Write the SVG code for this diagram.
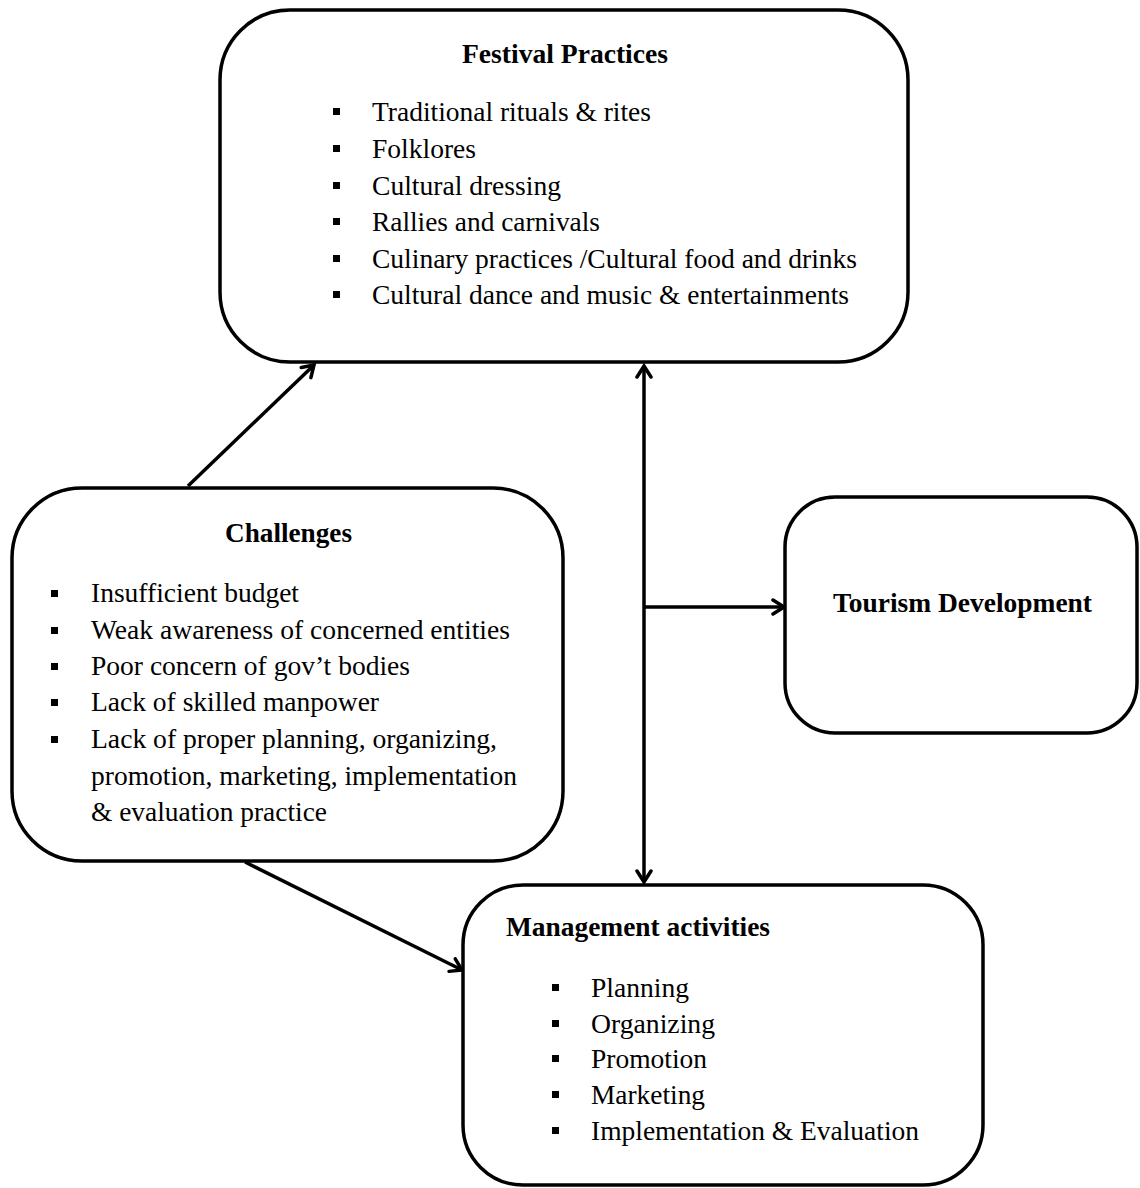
<svg xmlns="http://www.w3.org/2000/svg" width="1140" height="1188" viewBox="0 0 1140 1188">
<defs>
<style>
.box{fill:#fff;stroke:#000;stroke-width:3.5}
.t{font-family:"Liberation Serif","Times New Roman",serif;font-size:28px;fill:#000}
.b{font-weight:bold}
.c{stroke:#000;stroke-width:3.5;fill:none}
.bul{fill:#000}
</style>
<marker id="ah" viewBox="0 0 20 20" refX="17" refY="10" markerWidth="20" markerHeight="20" markerUnits="userSpaceOnUse" orient="auto-start-reverse">
<path d="M6,3 L17,10 L6,17" fill="none" stroke="#000" stroke-width="3.5" stroke-linecap="round" stroke-linejoin="miter"/>
</marker>
</defs>
<rect width="1140" height="1188" fill="#fff"/>
<g id="connectors">
<line class="c" x1="188" y1="486" x2="314" y2="365" marker-end="url(#ah)"/>
<line class="c" x1="644" y1="366" x2="644" y2="882" marker-start="url(#ah)" marker-end="url(#ah)"/>
<line class="c" x1="644" y1="607" x2="784" y2="607" marker-end="url(#ah)"/>
<line class="c" x1="245" y1="862" x2="462" y2="970" marker-end="url(#ah)"/>
</g>
<g id="festival">
<rect class="box" x="220" y="10" width="688" height="352" rx="70" ry="70"/>
<text class="t b" x="462" y="63" textLength="206" lengthAdjust="spacingAndGlyphs">Festival Practices</text>
<g class="bul"><rect x="333" y="108" width="7" height="7"/><rect x="333" y="145" width="7" height="7"/><rect x="333" y="182" width="7" height="7"/><rect x="333" y="218" width="7" height="7"/><rect x="333" y="255" width="7" height="7"/><rect x="333" y="291" width="7" height="7"/></g>
<text class="t" x="372" y="121" textLength="279" lengthAdjust="spacingAndGlyphs">Traditional rituals &amp; rites</text>
<text class="t" x="372" y="158" textLength="104" lengthAdjust="spacingAndGlyphs">Folklores</text>
<text class="t" x="372" y="195" textLength="189" lengthAdjust="spacingAndGlyphs">Cultural dressing</text>
<text class="t" x="372" y="231" textLength="228" lengthAdjust="spacingAndGlyphs">Rallies and carnivals</text>
<text class="t" x="372" y="268" textLength="485" lengthAdjust="spacingAndGlyphs">Culinary practices /Cultural food and drinks</text>
<text class="t" x="372" y="304" textLength="477" lengthAdjust="spacingAndGlyphs">Cultural dance and music &amp; entertainments</text>
</g>
<g id="challenges">
<rect class="box" x="12" y="488" width="551" height="373" rx="70" ry="70"/>
<text class="t b" x="225" y="542" textLength="127" lengthAdjust="spacingAndGlyphs">Challenges</text>
<g class="bul"><rect x="51" y="590" width="7" height="7"/><rect x="51" y="627" width="7" height="7"/><rect x="51" y="663" width="7" height="7"/><rect x="51" y="699" width="7" height="7"/><rect x="51" y="736" width="7" height="7"/></g>
<text class="t" x="91" y="602" textLength="208" lengthAdjust="spacingAndGlyphs">Insufficient budget</text>
<text class="t" x="91" y="639" textLength="419" lengthAdjust="spacingAndGlyphs">Weak awareness of concerned entities</text>
<text class="t" x="91" y="675" textLength="319" lengthAdjust="spacingAndGlyphs">Poor concern of gov’t bodies</text>
<text class="t" x="91" y="711" textLength="288" lengthAdjust="spacingAndGlyphs">Lack of skilled manpower</text>
<text class="t" x="91" y="748" textLength="406" lengthAdjust="spacingAndGlyphs">Lack of proper planning, organizing,</text>
<text class="t" x="91" y="785" textLength="426" lengthAdjust="spacingAndGlyphs">promotion, marketing, implementation</text>
<text class="t" x="91" y="821" textLength="236" lengthAdjust="spacingAndGlyphs">&amp; evaluation practice</text>
</g>
<g id="tourism">
<rect class="box" x="785" y="497" width="352" height="236" rx="50" ry="50"/>
<text class="t b" x="833" y="612" textLength="259" lengthAdjust="spacingAndGlyphs">Tourism Development</text>
</g>
<g id="management">
<rect class="box" x="463" y="885" width="520" height="300" rx="60" ry="60"/>
<text class="t b" x="506" y="936" textLength="264" lengthAdjust="spacingAndGlyphs">Management activities</text>
<g class="bul"><rect x="552" y="984" width="7" height="7"/><rect x="552" y="1020" width="7" height="7"/><rect x="552" y="1055" width="7" height="7"/><rect x="552" y="1091" width="7" height="7"/><rect x="552" y="1127" width="7" height="7"/></g>
<text class="t" x="591" y="997" textLength="98" lengthAdjust="spacingAndGlyphs">Planning</text>
<text class="t" x="591" y="1033" textLength="124" lengthAdjust="spacingAndGlyphs">Organizing</text>
<text class="t" x="591" y="1068" textLength="116" lengthAdjust="spacingAndGlyphs">Promotion</text>
<text class="t" x="591" y="1104" textLength="114" lengthAdjust="spacingAndGlyphs">Marketing</text>
<text class="t" x="591" y="1140" textLength="328" lengthAdjust="spacingAndGlyphs">Implementation &amp; Evaluation</text>
</g>
</svg>
